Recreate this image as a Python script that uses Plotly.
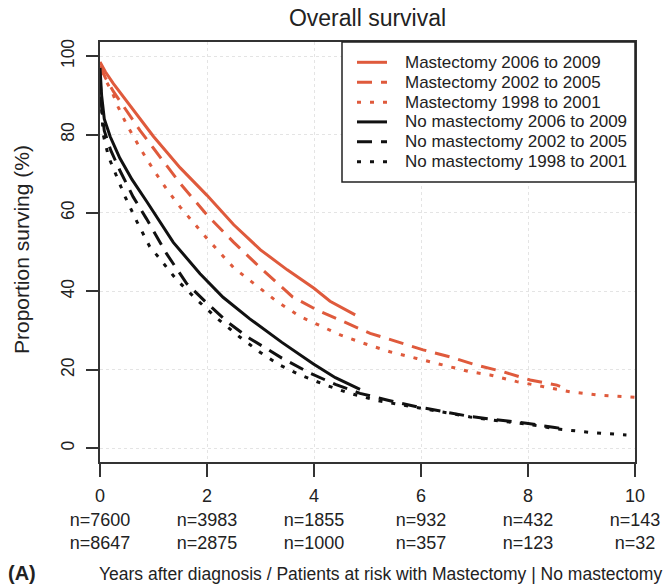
import plotly.graph_objects as go

# Kaplan-Meier overall survival estimates (years, % surviving)
m0609_t = [0, 0.1, 0.25, 0.5, 0.75, 1.0, 1.25, 1.5, 1.75, 2.0, 2.5, 3.0, 3.5, 4.0, 4.3, 4.77]
m0609_s = [98.5, 96, 93, 88.5, 84, 79.5, 75.5, 71.5, 68, 64.5, 57, 50.6, 45.5, 40.8, 37.5, 34.0]

m0205_t = [0, 0.1, 0.25, 0.5, 0.75, 1.0, 1.5, 2.0, 2.5, 3.0, 3.6, 4.05, 4.55, 5.05, 5.55,
           6.04, 6.54, 7.04, 7.54, 8.04, 8.54, 8.6]
m0205_s = [97.5, 94.5, 91, 86, 81, 76.5, 67.5, 59.5, 52.5, 46, 38.6, 35.3, 32.3, 29.3, 27.2,
           25.1, 23.3, 21.2, 19.5, 17.4, 16.1, 15.8]

m9801_t = [0, 0.1, 0.22, 0.34, 0.5, 0.75, 1.0, 1.25, 1.5, 2.0, 2.5, 2.86, 3.3, 3.74, 4.24,
           4.49, 4.92, 5.42, 5.92, 6.42, 6.92, 7.29, 7.79, 8.29, 8.79, 9.28, 9.84, 10.0]
m9801_s = [96, 94, 91, 87, 82.5, 76.5, 71, 66, 61.5, 53.5, 46, 42.1, 37.5, 33.6, 30.6,
           28.9, 26.8, 24.6, 22.9, 21.2, 19.5, 18.7, 17.0, 15.7, 14.4, 13.6, 13.2, 13.0]

nm0609_t = [0, 0.03, 0.08, 0.19, 0.37, 0.6, 0.87, 1.06, 1.37, 1.87, 2.3, 2.8, 3.4, 3.99, 4.4, 4.86]
nm0609_s = [97, 90, 84, 79.5, 74, 68.5, 63, 59, 52.5, 44.5, 38.5, 33, 27, 21.5, 18, 15]

nm0205_t = [0, 0.03, 0.08, 0.2, 0.37, 0.62, 0.87, 1.25, 1.62, 2.0, 2.4, 2.8, 3.4, 3.93, 4.4,
            4.86, 5.4, 5.92, 6.4, 6.92, 7.45, 7.97, 8.5, 8.6]
nm0205_s = [95, 87, 81, 76, 70.9, 64.1, 58.5, 49.5, 42, 37, 32, 28, 23, 19.1, 16.3,
            14.0, 12.2, 10.6, 9.4, 8.1, 7.2, 6.4, 5.3, 5.1]

nm9801_t = [0, 0.03, 0.06, 0.16, 0.31, 0.47, 0.69, 0.93, 1.09, 1.43, 1.8, 2.2, 2.6, 2.99,
            3.35, 3.74, 4.2, 4.67, 5.2, 5.92, 6.42, 6.92, 7.45, 7.97, 8.5, 9.2, 9.84]
nm9801_s = [93, 85, 80, 74.3, 69.5, 64.1, 57.8, 51.4, 48.8, 43, 38, 33, 28.5, 24.5,
            21.3, 18.7, 16.2, 14.0, 12.1, 10.4, 9.2, 8.0, 7.0, 6.2, 5.0, 4.0, 3.4]

# Patients at risk
year_ticks = [0, 2, 4, 6, 8, 10]
risk_mastectomy = [7600, 3983, 1855, 932, 432, 143]
risk_no_mastectomy = [8647, 2875, 1000, 357, 123, 32]

RED = "#df5a3c"
BLACK = "#111111"
TEXT = "#222222"
FONT = "Liberation Sans, Arial, Helvetica, sans-serif"
DASHED = "15px,9px"
DOTTED = "4px,9px"

series = [
    ("Mastectomy 2006 to 2009", m0609_t, m0609_s, RED, "solid"),
    ("Mastectomy 2002 to 2005", m0205_t, m0205_s, RED, DASHED),
    ("Mastectomy 1998 to 2001", m9801_t, m9801_s, RED, DOTTED),
    ("No mastectomy 2006 to 2009", nm0609_t, nm0609_s, BLACK, "solid"),
    ("No mastectomy 2002 to 2005", nm0205_t, nm0205_s, BLACK, DASHED),
    ("No mastectomy 1998 to 2001", nm9801_t, nm9801_s, BLACK, DOTTED),
]

# plot area in pixels (used to place the boxed key and captions)
PL, PR, PT, PB = 100, 635, 42, 462
W, H = 664, 585


def px_x(x):
    return (x - PL) / (PR - PL)


def px_y(y):
    return (PB - y) / (PB - PT)


fig = go.Figure()
for name, t, s, color, dash in series:
    fig.add_trace(go.Scatter(
        x=t, y=s, mode="lines", name=name, showlegend=False,
        line=dict(color=color, width=3, dash=dash),
    ))

tick_text = [f"{y}<br>n={a}<br>n={b}"
             for y, a, b in zip(year_ticks, risk_mastectomy, risk_no_mastectomy)]

fig.update_layout(
    width=W, height=H,
    margin=dict(l=PL, r=W - PR, t=PT, b=H - PB, autoexpand=False),
    paper_bgcolor="white", plot_bgcolor="white",
    font=dict(family=FONT, color=TEXT, size=17),
    title=dict(text="Overall survival", x=(PL + PR) / 2 / W, xanchor="center",
               y=1 - 18 / H, yanchor="middle",
               font=dict(size=23, color=TEXT)),
    showlegend=False,
    xaxis=dict(range=[0, 10], tickvals=year_ticks, ticktext=tick_text,
               ticks="outside", ticklen=13, tickwidth=1.5, tickcolor="#333333",
               ticklabelstandoff=4, automargin=False,
               showline=True, linecolor="#333333", linewidth=1.5, mirror=True,
               showgrid=True, gridcolor="#e4e4e4", griddash="dot", gridwidth=1,
               zeroline=False, tickfont=dict(size=18)),
    yaxis=dict(range=[-3.5, 103.6], tickvals=[0, 20, 40, 60, 80, 100],
               tickangle=-90, ticks="outside", ticklen=12, tickwidth=1.5,
               tickcolor="#333333", ticklabelstandoff=5, automargin=False,
               showline=True, linecolor="#333333", linewidth=1.5, mirror=True,
               showgrid=True, gridcolor="#e4e4e4", griddash="dot", gridwidth=1,
               zeroline=False, tickfont=dict(size=17.5)),
)

# y-axis caption
fig.add_annotation(text="Proportion surving (%)", xref="paper", yref="paper",
                   x=px_x(21), y=px_y(250), textangle=-90, xanchor="center",
                   yanchor="middle", showarrow=False,
                   font=dict(size=21, color=TEXT))

# boxed key in the top-right corner
KEY_L, KEY_R, KEY_T, KEY_B = 342, PR, PT, 182
fig.add_shape(type="rect", xref="paper", yref="paper",
              x0=px_x(KEY_L), x1=px_x(KEY_R), y0=px_y(KEY_B), y1=px_y(KEY_T),
              line=dict(color="#222222", width=1.5), fillcolor="white", layer="above")
row_y = [62.3, 82.3, 102.3, 121.9, 141.7, 161.7]
for (name, _, _, color, dash), ry in zip(series, row_y):
    fig.add_shape(type="line", xref="paper", yref="paper",
                  x0=px_x(357), x1=px_x(387), y0=px_y(ry), y1=px_y(ry),
                  line=dict(color=color, width=3, dash=dash), layer="above")
    fig.add_annotation(text=name, xref="paper", yref="paper",
                       x=px_x(403), y=px_y(ry), xanchor="left", yanchor="middle",
                       showarrow=False, font=dict(size=17, color=TEXT))

fig.add_annotation(text="<b>(A)</b>", xref="paper", yref="paper",
                   x=px_x(22), y=px_y(573), xanchor="center",
                   yanchor="middle", showarrow=False,
                   font=dict(size=20, color=TEXT))
fig.add_annotation(text="Years after diagnosis / Patients at risk with Mastectomy | No mastectomy",
                   xref="paper", yref="paper",
                   x=px_x(380), y=px_y(574), xanchor="center",
                   yanchor="middle", showarrow=False,
                   font=dict(size=17.5, color=TEXT))

fig.write_html("out.html")
